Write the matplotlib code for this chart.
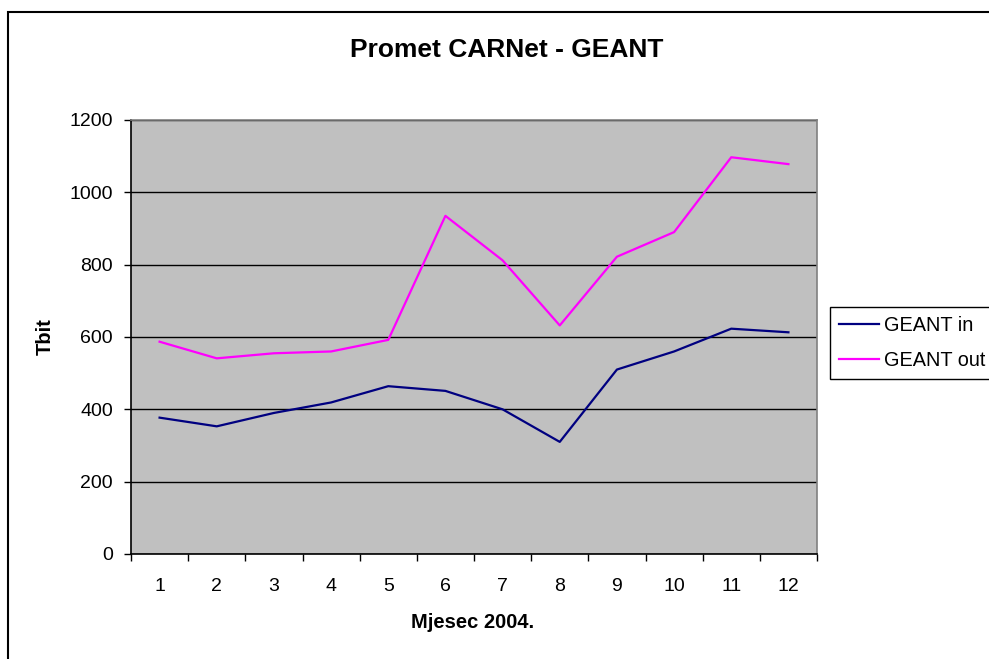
import matplotlib.pyplot as plt
import numpy as np
from matplotlib.patches import Rectangle

# Podaci: promet po mjesecima 2004. (Tbit)
mjeseci = [1, 2, 3, 4, 5, 6, 7, 8, 9, 10, 11, 12]
geant_in = [377, 353, 390, 419, 464, 451, 400, 310, 510, 560, 623, 613]
geant_out = [587, 541, 555, 560, 592, 935, 812, 632, 822, 890, 1097, 1078]
y_ticks = [0, 200, 400, 600, 800, 1000, 1200]

plt.rcParams['font.family'] = ['Liberation Sans', 'DejaVu Sans']

W, H = 989, 659
fig = plt.figure(figsize=(W / 100, H / 100), dpi=100)

# okvir grafikona
fig.patches.append(Rectangle((8 / W, -0.1), 1.2, 1 - 12 / H + 0.1, transform=fig.transFigure,
                             fill=False, edgecolor='black', linewidth=1.5))

ax = fig.add_axes([131 / W, 1 - 554 / H, (817 - 131) / W, (554 - 120) / H])
ax.set_facecolor('#C0C0C0')

x = np.arange(1, len(mjeseci) + 1)
ax.plot(x, geant_in, color='#000080', linewidth=1.6, label='GEANT in')
ax.plot(x, geant_out, color='#FF00FF', linewidth=1.6, label='GEANT out')

ax.set_xlim(0.5, len(mjeseci) + 0.5)
ax.set_ylim(0, 1200)
ax.set_yticks(y_ticks)
ax.yaxis.grid(True, color='black', linewidth=1)
ax.set_axisbelow(True)

ax.set_xticks(x)
ax.set_xticklabels([str(m) for m in mjeseci])
ax.set_xticks(np.arange(0.5, len(mjeseci) + 1, 1), minor=True)
ax.tick_params(axis='x', which='major', length=0, pad=17, labelsize=14)
ax.tick_params(axis='x', which='minor', length=5, width=1, direction='out')
ax.tick_params(axis='y', length=5, width=1, direction='out', pad=8, labelsize=14)

for s in ['left', 'bottom']:
    ax.spines[s].set_color('black')
    ax.spines[s].set_linewidth(1.2)
for s in ['top', 'right']:
    ax.spines[s].set_color('#808080')
    ax.spines[s].set_linewidth(1.2)

fig.text(507 / W, 1 - 50 / H, 'Promet CARNet - GEANT', ha='center', va='center',
         fontsize=19, fontweight='bold')
fig.text(473 / W, 1 - 622 / H, 'Mjesec 2004.', ha='center', va='center',
         fontsize=14.5, fontweight='bold')
fig.text(45 / W, 1 - 337 / H, 'Tbit', ha='center', va='center', rotation=90,
         fontsize=14.5, fontweight='bold')

leg = fig.legend(loc='upper left', bbox_to_anchor=(830 / W, 1 - 307 / H), fontsize=14.3,
                 frameon=True, fancybox=False, framealpha=1, edgecolor='black',
                 handlelength=2.0, handletextpad=0.25, borderpad=0.45, labelspacing=0.8,
                 borderaxespad=0)
leg.get_frame().set_linewidth(1)

fig.savefig('out.png', dpi=100)
